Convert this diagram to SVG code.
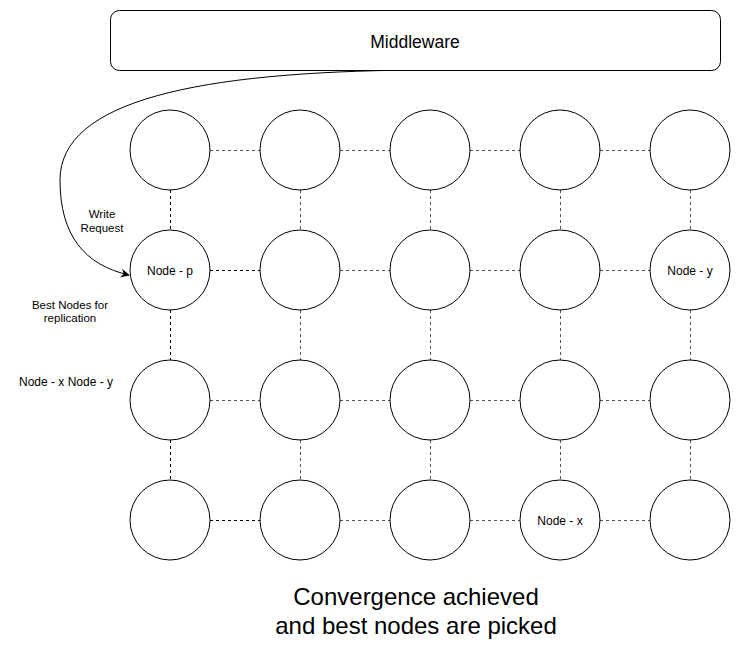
<svg xmlns="http://www.w3.org/2000/svg" width="742" height="648" viewBox="0 0 742 648">
<style>
  text { font-family: "Liberation Sans", Arial, sans-serif; fill: #000; }
  .node { fill: #fff; stroke: #000; stroke-width: 1; }
  .dg { stroke: #555; stroke-width: 1; stroke-dasharray: 3 3; fill: none; }
  .db { stroke: #000; stroke-width: 1; stroke-dasharray: 3 3; fill: none; }
  .lbl { font-size: 12px; }
</style>
<defs>
  <marker id="arrow" viewBox="0 0 10 10" refX="9" refY="5" markerWidth="9" markerHeight="9" markerUnits="userSpaceOnUse" orient="auto">
    <path d="M0,0 L10,5 L0,10 L3,5 Z" fill="#000"/>
  </marker>
</defs>
<rect width="742" height="648" fill="#fff"/>

<g id="connectors">
  <line class="dg" x1="210" y1="150.5" x2="260" y2="150.5"/>
  <line class="dg" x1="340" y1="150.5" x2="390" y2="150.5"/>
  <line class="dg" x1="470" y1="150.5" x2="520" y2="150.5"/>
  <line class="dg" x1="600" y1="150.5" x2="650" y2="150.5"/>
  <line class="db" x1="210" y1="270.5" x2="260" y2="270.5"/>
  <line class="dg" x1="340" y1="270.5" x2="390" y2="270.5"/>
  <line class="dg" x1="470" y1="270.5" x2="520" y2="270.5"/>
  <line class="dg" x1="600" y1="270.5" x2="650" y2="270.5"/>
  <line class="dg" x1="210" y1="400.5" x2="260" y2="400.5"/>
  <line class="dg" x1="340" y1="400.5" x2="390" y2="400.5"/>
  <line class="dg" x1="470" y1="400.5" x2="520" y2="400.5"/>
  <line class="dg" x1="600" y1="400.5" x2="650" y2="400.5"/>
  <line class="db" x1="210" y1="520.5" x2="260" y2="520.5"/>
  <line class="dg" x1="340" y1="520.5" x2="390" y2="520.5"/>
  <line class="dg" x1="470" y1="520.5" x2="520" y2="520.5"/>
  <line class="dg" x1="600" y1="520.5" x2="650" y2="520.5"/>
  <line class="db" x1="170.5" y1="190" x2="170.5" y2="230"/>
  <line class="dg" x1="300.5" y1="190" x2="300.5" y2="230"/>
  <line class="dg" x1="430.5" y1="190" x2="430.5" y2="230"/>
  <line class="dg" x1="560.5" y1="190" x2="560.5" y2="230"/>
  <line class="dg" x1="690.5" y1="190" x2="690.5" y2="230"/>
  <line class="db" x1="170.5" y1="310" x2="170.5" y2="360"/>
  <line class="dg" x1="300.5" y1="310" x2="300.5" y2="360"/>
  <line class="dg" x1="430.5" y1="310" x2="430.5" y2="360"/>
  <line class="dg" x1="560.5" y1="310" x2="560.5" y2="360"/>
  <line class="dg" x1="690.5" y1="310" x2="690.5" y2="360"/>
  <line class="db" x1="170.5" y1="440" x2="170.5" y2="480"/>
  <line class="dg" x1="300.5" y1="440" x2="300.5" y2="480"/>
  <line class="dg" x1="430.5" y1="440" x2="430.5" y2="480"/>
  <line class="dg" x1="560.5" y1="440" x2="560.5" y2="480"/>
  <line class="dg" x1="690.5" y1="440" x2="690.5" y2="480"/>
  <path d="M 415 70 C 200 72, 60 100, 60 180 C 60 236, 85 265, 129 275" fill="none" stroke="#000" stroke-width="1" marker-end="url(#arrow)"/>
</g>

<g id="middleware">
  <rect x="110.5" y="10.5" width="610" height="60" rx="9" ry="9" fill="#fff" stroke="#000"/>
  <text x="415" y="48" font-size="17.5" text-anchor="middle">Middleware</text>
</g>

<g id="n-1-1"><circle class="node" cx="170" cy="150" r="40"/></g>
<g id="n-1-2"><circle class="node" cx="300" cy="150" r="40"/></g>
<g id="n-1-3"><circle class="node" cx="430" cy="150" r="40"/></g>
<g id="n-1-4"><circle class="node" cx="560" cy="150" r="40"/></g>
<g id="n-1-5"><circle class="node" cx="690" cy="150" r="40"/></g>

<g id="node-p"><circle class="node" cx="170" cy="270" r="40"/><text class="lbl" x="170" y="275" text-anchor="middle">Node - p</text></g>
<g id="n-2-2"><circle class="node" cx="300" cy="270" r="40"/></g>
<g id="n-2-3"><circle class="node" cx="430" cy="270" r="40"/></g>
<g id="n-2-4"><circle class="node" cx="560" cy="270" r="40"/></g>
<g id="node-y"><circle class="node" cx="690" cy="270" r="40"/><text class="lbl" x="690" y="275" text-anchor="middle">Node - y</text></g>

<g id="n-3-1"><circle class="node" cx="170" cy="400" r="40"/></g>
<g id="n-3-2"><circle class="node" cx="300" cy="400" r="40"/></g>
<g id="n-3-3"><circle class="node" cx="430" cy="400" r="40"/></g>
<g id="n-3-4"><circle class="node" cx="560" cy="400" r="40"/></g>
<g id="n-3-5"><circle class="node" cx="690" cy="400" r="40"/></g>

<g id="n-4-1"><circle class="node" cx="170" cy="520" r="40"/></g>
<g id="n-4-2"><circle class="node" cx="300" cy="520" r="40"/></g>
<g id="n-4-3"><circle class="node" cx="430" cy="520" r="40"/></g>
<g id="node-x"><circle class="node" cx="560" cy="520" r="40"/><text class="lbl" x="560" y="525" text-anchor="middle">Node - x</text></g>
<g id="n-4-5"><circle class="node" cx="690" cy="520" r="40"/></g>

<g id="labels">
  <text font-size="11.5" text-anchor="middle"><tspan x="102" y="217.5">Write</tspan><tspan x="102" y="232">Request</tspan></text>
  <text font-size="11.5" text-anchor="middle"><tspan x="70" y="308.5">Best Nodes for</tspan><tspan x="70" y="322">replication</tspan></text>
  <text font-size="12" x="19" y="385.5">Node - x Node - y</text>
  <text font-size="24" text-anchor="middle"><tspan x="416" y="605">Convergence achieved</tspan><tspan x="416" y="634">and best nodes are picked</tspan></text>
</g>
</svg>
